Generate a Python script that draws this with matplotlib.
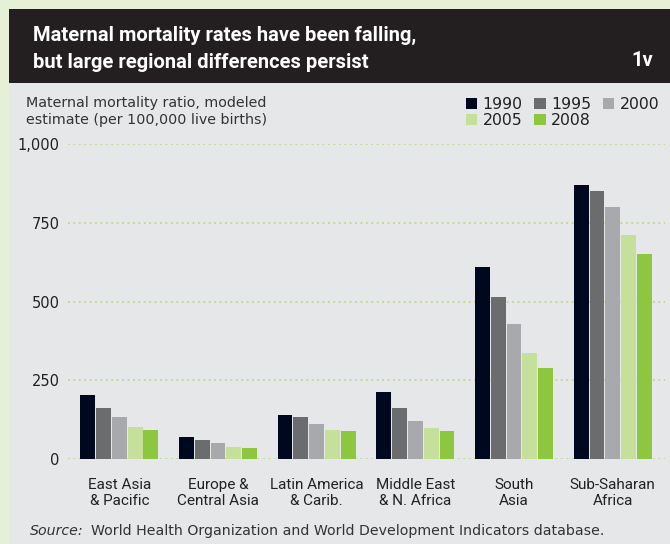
import numpy as np
import matplotlib.pyplot as plt
from matplotlib.patches import Rectangle

regions = ['East Asia\n& Pacific', 'Europe &\nCentral Asia', 'Latin America\n& Carib.',
           'Middle East\n& N. Africa', 'South\nAsia', 'Sub-Saharan\nAfrica']
years = ['1990', '1995', '2000', '2005', '2008']
v1990 = [203, 69, 141, 212, 610, 870]
v1995 = [162, 59, 132, 162, 513, 851]
v2000 = [133, 50, 110, 120, 430, 800]
v2005 = [102, 37, 91, 97, 335, 711]
v2008 = [92, 34, 88, 88, 290, 651]
colors = ['#000820', '#6b6c6e', '#a8a9ac', '#c5e09b', '#8dc63f']

titlefont = ['Roboto', 'DejaVu Sans']
labfont = ['Roboto', 'DejaVu Sans']
plain = ['DejaVu Sans']
W, H = 670, 544
fig = plt.figure(figsize=(W / 100, H / 100), dpi=100, facecolor='#e5f0d6')

# panels
fig.patches.append(Rectangle((9 / W, 0), 1, 1 - 83 / H, transform=fig.transFigure,
                             facecolor='#e6e7e8', edgecolor='none', zorder=-5))
fig.patches.append(Rectangle((9 / W, 1 - 83 / H), 1, 74 / H, transform=fig.transFigure,
                             facecolor='#231f20', edgecolor='none', zorder=-5))

fig.text(33 / W, 1 - 35 / H, 'Maternal mortality rates have been falling,', color='white',
         fontsize=14.5, fontweight='bold', family=titlefont, va='center')
fig.text(33 / W, 1 - 62 / H, 'but large regional differences persist', color='white',
         fontsize=14.5, fontweight='bold', family=titlefont, va='center')
fig.text(653 / W, 1 - 61 / H, '1v', color='white', fontsize=14.5, fontweight='bold',
         family=titlefont, va='center', ha='right')

fig.text(26 / W, 1 - 96 / H, 'Maternal mortality ratio, modeled\nestimate (per 100,000 live births)',
         color='#333333', fontsize=10.3, family=plain, va='top', linespacing=1.25)

ax = fig.add_axes([68 / W, 1 - 459 / H, (665 - 68) / W, (459 - 144) / H])
ax.set_facecolor('none')
x = np.arange(len(regions))
step = 0.16
for i, (vals, c) in enumerate(zip([v1990, v1995, v2000, v2005, v2008], colors)):
    ax.bar(x + (i - 2) * step, vals, 0.15, color=c, label=years[i], zorder=3)

ax.set_xlim(-0.52, 5.53)
ax.set_ylim(0, 1000)
ax.set_yticks([0, 250, 500, 750, 1000])
ax.set_yticklabels(['0', '250', '500', '750', '1,000'], family=plain, fontsize=10.5)
ax.set_xticks(x)
ax.set_xticklabels(regions, family=labfont, fontsize=11, linespacing=1.15)
ax.tick_params(axis='both', length=0, colors='#222222')
ax.tick_params(axis='x', pad=14)
ax.tick_params(axis='y', pad=6)
for s in ax.spines.values():
    s.set_visible(False)
ax.grid(axis='y', color='#b9d98f', linestyle=(0, (1, 2)), linewidth=1.3, zorder=1)
ax.set_axisbelow(True)

# legend filled row by row: 1990 1995 2000 / 2005 2008
h, l = ax.get_legend_handles_labels()
order = [0, 3, 1, 4, 2]
ax.legend([h[k] for k in order], [l[k] for k in order],
          loc='upper left', bbox_to_anchor=(458 / W, 1 - 89 / H), bbox_transform=fig.transFigure,
          ncol=3, frameon=False, prop={'family': plain, 'size': 11.3},
          handlelength=0.72, handleheight=0.72,
          handletextpad=0.35, columnspacing=0.75, labelspacing=0.05, borderpad=0,
          labelcolor='#222222')

fig.text(30 / W, 1 - 531 / H, 'Source:', style='italic', color='#333333', fontsize=10.2,
         family=plain, va='center')
fig.text(91 / W, 1 - 531 / H, 'World Health Organization and World Development Indicators database.',
         color='#333333', fontsize=10.2, family=plain, va='center')

fig.savefig('out.png', dpi=100, facecolor=fig.get_facecolor())
